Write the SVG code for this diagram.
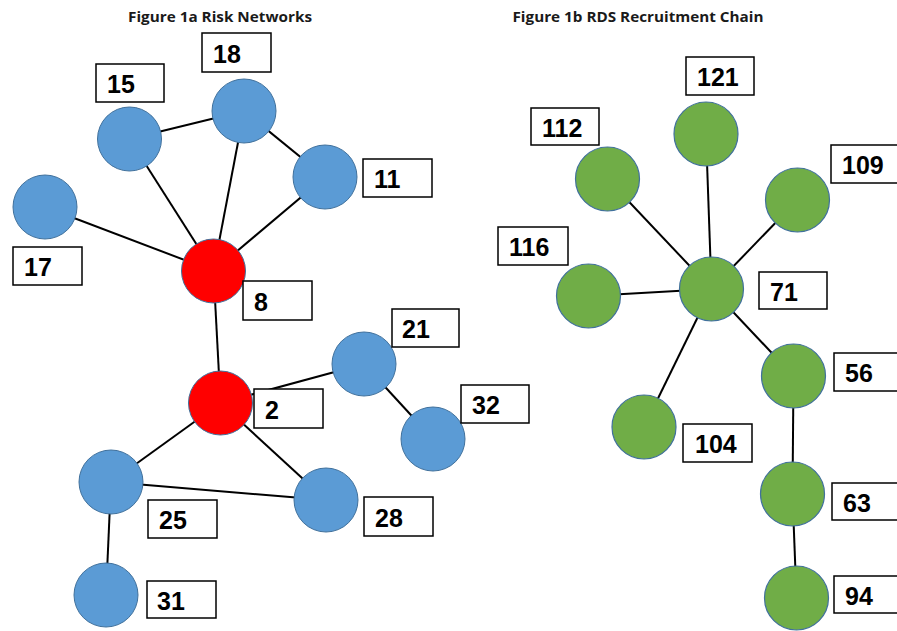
<svg xmlns="http://www.w3.org/2000/svg" width="897" height="631" viewBox="0 0 897 631">
<style>
.title{font-family:"Open Sans","Liberation Sans",sans-serif;font-weight:bold;font-size:15px;fill:#1a1a1a}
.lbl{font-family:"Liberation Sans",Arial,sans-serif;font-weight:bold;font-size:25px;fill:#000}
.box{fill:#fff;stroke:#000;stroke-width:1.5}
.blue{fill:#5B9BD5;stroke:#41719C;stroke-width:1}
.red{fill:#FF0000;stroke:#41719C;stroke-width:1}
.green{fill:#70AD47;stroke:#41719C;stroke-width:1.2}
.edges line{stroke:#000;stroke-width:2}
</style>
<rect width="897" height="631" fill="#fff"/>
<text class="title" x="220" y="22" text-anchor="middle" textLength="184" lengthAdjust="spacingAndGlyphs">Figure 1a Risk Networks</text>
<text class="title" x="638" y="22" text-anchor="middle" textLength="251" lengthAdjust="spacingAndGlyphs">Figure 1b RDS Recruitment Chain</text>
<g id="connectors" class="edges">
<line x1="129.5" y1="139" x2="244" y2="111"/>
<line x1="129.5" y1="139" x2="213.5" y2="271"/>
<line x1="244" y1="111" x2="213.5" y2="271"/>
<line x1="244" y1="111" x2="325" y2="177"/>
<line x1="325" y1="177" x2="213.5" y2="271"/>
<line x1="45" y1="207" x2="213.5" y2="271"/>
<line x1="213.5" y1="271" x2="220.5" y2="403"/>
<line x1="220.5" y1="403" x2="364" y2="364"/>
<line x1="364" y1="364" x2="433" y2="439"/>
<line x1="220.5" y1="403" x2="111" y2="482"/>
<line x1="220.5" y1="403" x2="326" y2="500"/>
<line x1="111" y1="482" x2="326" y2="500"/>
<line x1="111" y1="482" x2="106" y2="595"/>
<line x1="711.5" y1="289" x2="607.5" y2="179"/>
<line x1="711.5" y1="289" x2="706" y2="134"/>
<line x1="711.5" y1="289" x2="797.5" y2="200"/>
<line x1="711.5" y1="289" x2="588.5" y2="296"/>
<line x1="711.5" y1="289" x2="644" y2="427"/>
<line x1="711.5" y1="289" x2="793.5" y2="376"/>
<line x1="793.5" y1="376" x2="792.5" y2="494"/>
<line x1="792.5" y1="494" x2="796.5" y2="598"/>
</g>
<g id="n18"><circle class="blue" cx="244" cy="111" r="32"/><rect class="box" x="202" y="33" width="69" height="39"/><text class="lbl" x="213" y="63">18</text></g>
<g id="n15"><circle class="blue" cx="129.5" cy="139" r="32"/><rect class="box" x="96" y="64" width="68" height="38"/><text class="lbl" x="107" y="93">15</text></g>
<g id="n11"><circle class="blue" cx="325" cy="177" r="32"/><rect class="box" x="363" y="159" width="69" height="38"/><text class="lbl" x="374" y="188">11</text></g>
<g id="n17"><circle class="blue" cx="45" cy="207" r="32"/><rect class="box" x="13" y="247" width="69" height="38"/><text class="lbl" x="24" y="276">17</text></g>
<g id="n8"><circle class="red" cx="213.5" cy="271" r="32"/><rect class="box" x="243" y="281" width="69" height="39"/><text class="lbl" x="254" y="311">8</text></g>
<g id="n2"><circle class="red" cx="220.5" cy="403" r="32"/><rect class="box" x="254" y="389" width="69" height="39"/><text class="lbl" x="265" y="419">2</text></g>
<g id="n21"><circle class="blue" cx="364" cy="364" r="32"/><rect class="box" x="392" y="309" width="67" height="38"/><text class="lbl" x="402" y="338">21</text></g>
<g id="n32"><circle class="blue" cx="433" cy="439" r="32"/><rect class="box" x="461" y="385" width="68" height="38"/><text class="lbl" x="472" y="414">32</text></g>
<g id="n25"><circle class="blue" cx="111" cy="482" r="32"/><rect class="box" x="148" y="500" width="69" height="38"/><text class="lbl" x="159" y="529">25</text></g>
<g id="n28"><circle class="blue" cx="326" cy="500" r="32"/><rect class="box" x="364" y="497" width="69" height="39"/><text class="lbl" x="375" y="527">28</text></g>
<g id="n31"><circle class="blue" cx="106" cy="595" r="32"/><rect class="box" x="147" y="581" width="69" height="37"/><text class="lbl" x="157" y="610">31</text></g>
<g id="n121"><circle class="green" cx="706" cy="134" r="32"/><rect class="box" x="686" y="57" width="68" height="38"/><text class="lbl" x="697" y="86">121</text></g>
<g id="n112"><circle class="green" cx="607.5" cy="179" r="32"/><rect class="box" x="531" y="108" width="68" height="37"/><text class="lbl" x="542" y="137">112</text></g>
<g id="n109"><circle class="green" cx="797.5" cy="200" r="32"/><rect class="box" x="831" y="145" width="69" height="38"/><text class="lbl" x="842" y="174">109</text></g>
<g id="n116"><circle class="green" cx="588.5" cy="296" r="32"/><rect class="box" x="498" y="227" width="70" height="38"/><text class="lbl" x="509" y="256">116</text></g>
<g id="n71"><circle class="green" cx="711.5" cy="289" r="32"/><rect class="box" x="759" y="272" width="68" height="37"/><text class="lbl" x="770" y="301">71</text></g>
<g id="n104"><circle class="green" cx="644" cy="427" r="32"/><rect class="box" x="683" y="424" width="69" height="38"/><text class="lbl" x="695" y="453">104</text></g>
<g id="n56"><circle class="green" cx="793.5" cy="376" r="32"/><rect class="box" x="834" y="353" width="69" height="38"/><text class="lbl" x="845" y="382">56</text></g>
<g id="n63"><circle class="green" cx="792.5" cy="494" r="32"/><rect class="box" x="832" y="483" width="69" height="37"/><text class="lbl" x="843" y="512">63</text></g>
<g id="n94"><circle class="green" cx="796.5" cy="598" r="32"/><rect class="box" x="834" y="576" width="69" height="37"/><text class="lbl" x="845" y="605">94</text></g>
</svg>
